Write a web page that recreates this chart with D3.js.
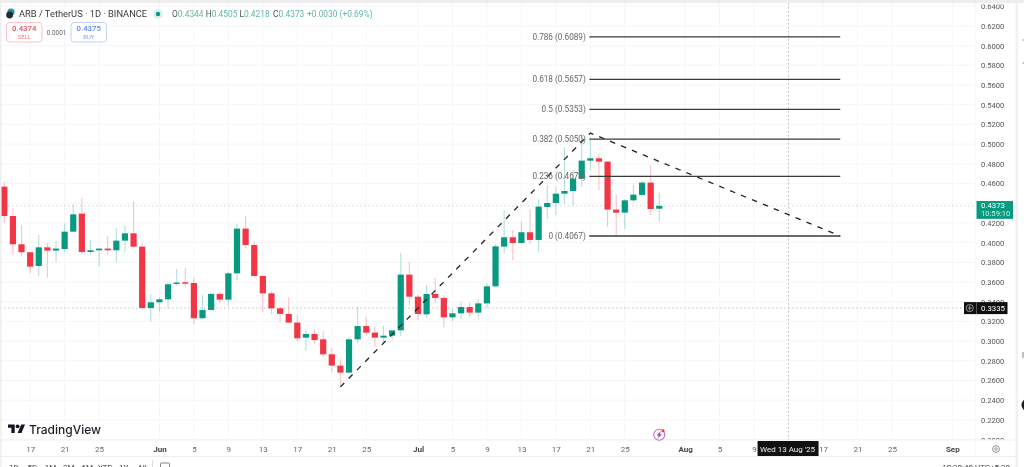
<!DOCTYPE html>
<html><head><meta charset="utf-8">
<style>html,body{margin:0;padding:0;background:#fff;overflow:hidden}svg{display:block;filter:blur(.45px)}text{font-family:Roboto,Inter,sans-serif}</style>
<script src="https://cdn.jsdelivr.net/npm/d3@7/dist/d3.min.js"></script></head><body><svg id="c" width="1024" height="467"></svg>
<script>
const firstDay = "2025-05-14";
const opens = [.4568,.4270,.3983,.3902,.3763,.3952,.3919,.3935,.4111,.4294,.3905,.3922,.3939,.3922,.4020,.4094,.3959,.3336,.3394,.3424,.3580,.3597,.3590,.3232,.3316,.3479,.3421,.3688,.4142,.3976,.3661,.3485,.3333,.3276,.3188,.3035,.3072,.3018,.2866,.2751,.2680,.3018,.3153,.3086,.3035,.3055,.3109,.3675,.3451,.3272,.3478,.3438,.3241,.3282,.3346,.3289,.3383,.3556,.3959,.4054,.3996,.4105,.4027,.4362,.4402,.4497,.4524,.4649,.4832,.4856,.4822,.4335,.4304,.4429,.4484,.4609,.4344];
const highs = [.4619,.4348,.4179,.3902,.4078,.3993,.4017,.4196,.4389,.4450,.4027,.3939,.4067,.4145,.4179,.4416,.3993,.3475,.3445,.3604,.3732,.3739,.3644,.3468,.3496,.3496,.3705,.4189,.4270,.4017,.3665,.3502,.3350,.3445,.3265,.3113,.3120,.3103,.2927,.2815,.3045,.3350,.3248,.3153,.3153,.3113,.3898,.3800,.3468,.3570,.3637,.3468,.3333,.3394,.3390,.3427,.3587,.3986,.4331,.4128,.4213,.4338,.4440,.4585,.4568,.4968,.4737,.5103,.5059,.4900,.4825,.4494,.4440,.4585,.4626,.4788,.4505];
const lows = [.4203,.3875,.3858,.3688,.3661,.3644,.3800,.3902,.4105,.3881,.3881,.3756,.3875,.3800,.3902,.3942,.3323,.3198,.3299,.3333,.3563,.3546,.3174,.3225,.3310,.3384,.3360,.3621,.3942,.3655,.3299,.3272,.3191,.3181,.2995,.2903,.2971,.2842,.2680,.2531,.2673,.2984,.3055,.2944,.2977,.3011,.3052,.3363,.3214,.3231,.3383,.3140,.3204,.3221,.3248,.3231,.3333,.3546,.3891,.3824,.3986,.3986,.3908,.4240,.4281,.4392,.4375,.4568,.4737,.4534,.4162,.4077,.4138,.4406,.4460,.4281,.4218];
const closes = [.4270,.3983,.3902,.3756,.3952,.3919,.3939,.4111,.4287,.3905,.3922,.3939,.3922,.4020,.4094,.3959,.3336,.3394,.3424,.3577,.3594,.3584,.3232,.3316,.3479,.3421,.3688,.4142,.3976,.3661,.3485,.3333,.3276,.3188,.3029,.3072,.3011,.2866,.2751,.2680,.3018,.3153,.3086,.3035,.3055,.3109,.3675,.3451,.3275,.3478,.3438,.3241,.3282,.3346,.3289,.3383,.3556,.3962,.4054,.3996,.4105,.4027,.4365,.4402,.4497,.4524,.4649,.4832,.4856,.4822,.4335,.4304,.4429,.4487,.4609,.4341,.4373];
const priceTicks = [.20,.22,.24,.26,.28,.30,.32,.34,.36,.38,.40,.42,.44,.46,.48,.50,.52,.54,.56,.58,.60,.62,.64];
const dateTicks = ["2025-05-17","2025-05-21","2025-05-25","2025-06-01","2025-06-05","2025-06-09","2025-06-13","2025-06-17","2025-06-21","2025-06-25","2025-07-01","2025-07-05","2025-07-09","2025-07-13","2025-07-17","2025-07-21","2025-07-25","2025-08-01","2025-08-05","2025-08-09","2025-08-13","2025-08-17","2025-08-21","2025-08-25","2025-09-01"];
const fibLevels = ["0","0.236","0.382","0.5","0.618","0.786"];
const fibPrices = [.4067,.4672,.5050,.5353,.5657,.6089];
const trendDates = ["2025-06-22","2025-07-21","2025-08-19"];
const trendPrices = [.2535,.5112,.4067];
const fibDates = ["2025-07-21","2025-08-19"];
const lastPrice = .4373, crossPrice = .3335, crossDate = "2025-08-13";
const legendParts = [["O","0.4344"],["H","0.4505"],["L","0.4218"],["C","0.4373"]];
const rangeTabs = ["1D","5D","1M","3M","6M","YTD","1Y","All"];

const GREEN="#089981",RED="#f23645",GRID="#f6f6f6";
const parse=d3.utcParse("%Y-%m-%d");
const svg=d3.select("#c");
const x=d3.scaleUtc().domain([parse(firstDay),parse("2025-09-01")]).range([4.3,952.3]);
const y=d3.scaleLinear().domain([.2,.64]).range([439.6,6.2]);
const day=i=>d3.utcDay.offset(parse(firstDay),i);
const defs=svg.append("defs");
defs.append("clipPath").attr("id","pane").append("rect").attr("x",1).attr("y",3).attr("width",974).attr("height",437);
defs.append("clipPath").attr("id","ax").append("rect").attr("x",976).attr("y",4.6).attr("width",40).attr("height",435.4);

// grid
const pane=svg.append("g").attr("clip-path","url(#pane)");
pane.selectAll(".gh").data(priceTicks).join("line").attr("x1",0).attr("x2",976).attr("y1",d=>y(d)).attr("y2",d=>y(d)).attr("stroke",GRID);
pane.selectAll(".gv").data(dateTicks).join("line").attr("x1",d=>x(parse(d))).attr("x2",d=>x(parse(d))).attr("y1",3).attr("y2",440).attr("stroke",GRID);
[[lastPrice,"#c9dcd8"],[crossPrice,"#c4c4c4"]].forEach(([p,c])=>pane.append("line").attr("x1",0).attr("x2",976).attr("y1",y(p)).attr("y2",y(p)).attr("stroke",c).attr("stroke-dasharray","1.5 2.5"));
pane.append("line").attr("x1",x(parse(crossDate))).attr("x2",x(parse(crossDate))).attr("y1",3).attr("y2",440).attr("stroke","#bbb").attr("stroke-dasharray","1.5 2.5");

// candles
const idx=d3.range(opens.length);
const col=i=>closes[i]>=opens[i]?GREEN:RED;
pane.selectAll(".w").data(idx).join("line").attr("x1",i=>x(day(i))).attr("x2",i=>x(day(i))).attr("y1",i=>y(highs[i])).attr("y2",i=>y(lows[i])).attr("stroke",i=>col(i)).attr("stroke-opacity",.3).attr("stroke-width",1.1);
pane.selectAll(".b").data(idx).join("rect").attr("x",i=>x(day(i))-3.1).attr("width",6.2)
 .attr("y",i=>y(Math.max(opens[i],closes[i]))).attr("height",i=>Math.max(1.4,Math.abs(y(opens[i])-y(closes[i])))).attr("fill",i=>col(i));

// trend line
const line=d3.line().x((d,i)=>x(parse(trendDates[i]))).y(d=>y(d));
pane.append("path").attr("d",line(trendPrices)).attr("fill","none").attr("stroke","#222").attr("stroke-width",1.3).attr("stroke-dasharray","5.5 6.3");
// fib
pane.selectAll(".f").data(fibPrices).join("line").attr("x1",x(parse(fibDates[0]))-1).attr("x2",x(parse(fibDates[1]))).attr("y1",d=>y(d)).attr("y2",d=>y(d)).attr("stroke","#3a3a3a").attr("stroke-width",1.3);
pane.selectAll(".fl").data(fibPrices).join("text").attr("x",x(parse(fibDates[0]))-4.5).attr("y",d=>y(d)+2.8).attr("text-anchor","end").attr("font-size",8.2).attr("fill","#666").text((d,i)=>`${fibLevels[i]} (${d.toFixed(4)})`);

// price axis
const ay=svg.append("g").attr("clip-path","url(#ax)").append("g").attr("transform","translate(981,0)")
 .call(d3.axisRight(y).tickValues(priceTicks).tickSize(0).tickPadding(0).tickFormat(d3.format(".4f")));
ay.select(".domain").remove();
ay.selectAll("text").attr("font-size",7.6).attr("fill","#555").style("font-family","Roboto,Inter,sans-serif");

// time axis (the crosshair date tag covers the tick under it)
const isMonth=d=>d.getUTCDate()===1;
const hidden=parse(crossDate).getTime();
const ax=svg.append("g").attr("transform","translate(0,445)")
 .call(d3.axisBottom(x).tickValues(dateTicks.map(parse)).tickSize(0).tickPadding(1).tickFormat(d=>d.getTime()===hidden?"":isMonth(d)?d3.utcFormat("%b")(d):d3.utcFormat("%-d")(d)));
ax.select(".domain").remove();
ax.selectAll("text").attr("font-size",8).attr("fill",d=>isMonth(d)?"#444":"#666").attr("font-weight",d=>isMonth(d)?700:400).style("font-family","Roboto,Inter,sans-serif");

// frame
svg.append("rect").attr("width",1024).attr("height",3).attr("fill","#eeeeee");
svg.append("rect").attr("width",1.5).attr("height",467).attr("fill","#eeeeee");
svg.append("rect").attr("x",1015.5).attr("y",3).attr("width",2.5).attr("height",464).attr("fill","#f1f1f1");
svg.append("line").attr("x1",0).attr("x2",1016).attr("y1",440).attr("y2",440).attr("stroke","#f2f2f2");
svg.append("line").attr("x1",0).attr("x2",1016).attr("y1",456.5).attr("y2",456.5).attr("stroke","#eeeeee");
svg.append("line").attr("x1",975.5).attr("x2",975.5).attr("y1",3).attr("y2",456).attr("stroke","#f7f7f7");

// legend
svg.append("circle").attr("cx",11).attr("cy",12).attr("r",3.6).attr("fill","#2a8fa0");
svg.append("circle").attr("cx",9.6).attr("cy",15).attr("r",3.4).attr("fill","#1d2b3a");
svg.append("text").attr("x",19).attr("y",17.3).attr("font-size",9.3).attr("fill","#3a3a3a").text("ARB / TetherUS · 1D · BINANCE");
svg.append("circle").attr("cx",158).attr("cy",14).attr("r",5).attr("fill","#dff1ee");
svg.append("circle").attr("cx",158).attr("cy",14).attr("r",2.2).attr("fill",GREEN);
legendParts.forEach(([k,v],i)=>{
 const t=svg.append("text").attr("y",17.3).attr("x",172+33.7*i).attr("font-size",8.4);
 t.append("tspan").attr("fill","#555").text(k);t.append("tspan").attr("fill","#5cb8a7").text(v);
});
svg.append("text").attr("x",307).attr("y",17.3).attr("font-size",8.4).attr("fill","#5cb8a7").text("+0.0030 (+0.69%)");
function tradeBox(x0,w,c,bc,v,l){
 svg.append("rect").attr("x",x0).attr("y",22.5).attr("width",w).attr("height",19.5).attr("rx",3).attr("fill","#fff").attr("stroke",bc);
 svg.append("text").attr("x",x0+w/2).attr("y",31).attr("text-anchor","middle").attr("font-size",7.8).attr("font-weight",500).attr("fill",c).text(v);
 svg.append("text").attr("x",x0+w/2).attr("y",39).attr("text-anchor","middle").attr("font-size",5.8).attr("fill",c).attr("fill-opacity",.8).text(l);
}
tradeBox(6.5,35.5,"#f0505f","#f9c4ca","0.4374","SELL");
tradeBox(71,35.5,"#5f86ee","#c3d2f8","0.4375","BUY");
svg.append("text").attr("x",56.5).attr("y",34.5).attr("text-anchor","middle").attr("font-size",6.4).attr("fill","#666").text("0.0001");

// price tags
svg.append("rect").attr("x",976.5).attr("y",y(lastPrice)-4.8).attr("width",36.5).attr("height",17.8).attr("fill",GREEN);
svg.append("text").attr("x",981).attr("y",y(lastPrice)+2).attr("font-size",7.8).attr("fill","#fff").text(lastPrice.toFixed(4));
svg.append("text").attr("x",981).attr("y",y(lastPrice)+10.5).attr("font-size",7.6).attr("fill","#cdeee8").text("10:59:10");
svg.append("rect").attr("x",964).attr("y",y(crossPrice)-6).attr("width",43.5).attr("height",12).attr("fill","#0f0f0f");
svg.append("line").attr("x1",976.5).attr("x2",976.5).attr("y1",y(crossPrice)-6).attr("y2",y(crossPrice)+6).attr("stroke","#555");
svg.append("circle").attr("cx",969.7).attr("cy",y(crossPrice)).attr("r",3.6).attr("fill","none").attr("stroke","#ccc").attr("stroke-width",.7);
svg.append("path").attr("d",`M969.7 ${y(crossPrice)-2.4}V${y(crossPrice)+2.4}M967.7 ${y(crossPrice)}H971.7`).attr("stroke","#ccc").attr("stroke-width",.7);
svg.append("text").attr("x",981).attr("y",y(crossPrice)+2.9).attr("font-size",7.8).attr("fill","#fff").text(crossPrice.toFixed(4));
svg.append("rect").attr("x",x(parse(crossDate))-31).attr("y",441).attr("width",61).attr("height",15).attr("fill","#111");
svg.append("text").attr("x",x(parse(crossDate))-1).attr("y",451.5).attr("text-anchor","middle").attr("font-size",8).attr("fill","#eee").text("Wed 13 Aug '25");

// logo
const logo=svg.append("g").attr("transform","translate(8,422.5) scale(.48)").attr("fill","#131722");
logo.append("path").attr("d","M14 22H7V11H0V4h14v18zM28 22h-8l7.5-18h8L28 22z");
logo.append("circle").attr("cx",20).attr("cy",8).attr("r",4);
svg.append("text").attr("x",29).attr("y",434).attr("font-size",12).attr("font-weight",500).style("font-family","Inter,Roboto,sans-serif").attr("fill","#1a1d26").text("TradingView");

// event icon
const ev=x(parse("2025-07-29"));
svg.append("circle").attr("cx",ev).attr("cy",434.8).attr("r",5.5).attr("fill","#fff").attr("stroke","#c868dc").attr("stroke-width",1.1);
svg.append("path").attr("d",`M${ev+1.6} 430.8L${ev-2.6} 435.4H${ev-.4}L${ev-1.6} 438.8L${ev+2.6} 434.2H${ev+.4}Z`).attr("fill","#9b3fc0");
svg.append("circle").attr("cx",ev+3.8).attr("cy",430.8).attr("r",1.5).attr("fill","#f23645");

// settings icon + bottom strip
svg.append("circle").attr("cx",996).attr("cy",449).attr("r",3.4).attr("fill","none").attr("stroke","#777").attr("stroke-width",.8);
svg.append("circle").attr("cx",996).attr("cy",449).attr("r",1.3).attr("fill","none").attr("stroke","#777").attr("stroke-width",.7);
const tabX=d3.scalePoint().domain(rangeTabs).range([14,142]);
svg.selectAll(".tab").data(rangeTabs).join("text").attr("x",d=>tabX(d)).attr("y",469.5).attr("text-anchor","middle").attr("font-size",8).attr("fill","#444").text(d=>d);
svg.append("line").attr("x1",152.5).attr("x2",152.5).attr("y1",460).attr("y2",467).attr("stroke","#ddd");
svg.append("rect").attr("x",160.5).attr("y",463).attr("width",9).attr("height",8).attr("rx",1).attr("fill","none").attr("stroke","#666").attr("stroke-width",.8);
svg.append("text").attr("x",1010).attr("y",469.5).attr("text-anchor","end").attr("font-size",8).attr("fill","#444").text("10:30:40 UTC+5:30");

// right toolbar fragments
svg.append("path").attr("d","M1022.5 40h1.5M1022.5 63h1.5M1023 352v6").attr("stroke","#888").attr("fill","none");
svg.append("circle").attr("cx",1028).attr("cy",405).attr("r",6.5).attr("fill","#1b1b1b");
</script></body></html>
